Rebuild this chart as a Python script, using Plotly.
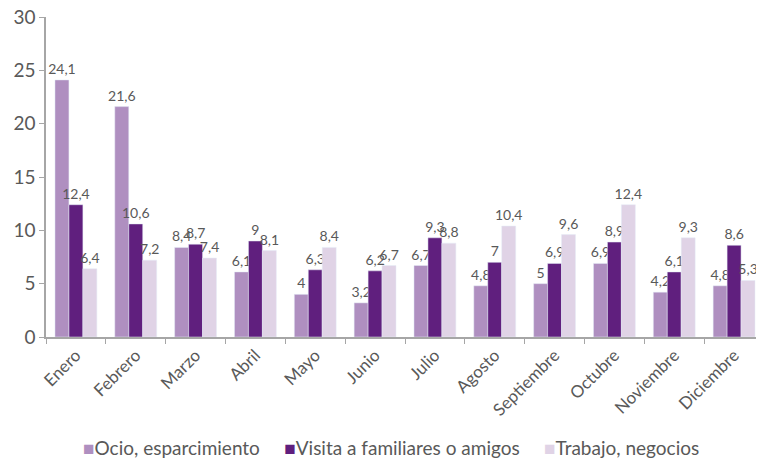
import plotly.graph_objects as go

months = ["Enero", "Febrero", "Marzo", "Abril", "Mayo", "Junio", "Julio",
          "Agosto", "Septiembre", "Octubre", "Noviembre", "Diciembre"]
ocio = [24.1, 21.6, 8.4, 6.1, 4, 3.2, 6.7, 4.8, 5, 6.9, 4.2, 4.8]
visita = [12.4, 10.6, 8.7, 9, 6.3, 6.2, 9.3, 7, 6.9, 8.9, 6.1, 8.6]
trabajo = [6.4, 7.2, 7.4, 8.1, 8.4, 6.7, 8.8, 10.4, 9.6, 12.4, 9.3, 5.3]

series = [
    ("Ocio, esparcimiento", ocio, "#AF8FC0"),
    ("Visita a familiares o amigos", visita, "#601F7E"),
    ("Trabajo, negocios", trabajo, "#E0D3E6"),
]

FONT = "Lato"
GRAY = "#595959"

def fmt(v):
    return ("%g" % v).replace(".", ",")

fig = go.Figure()
for name, vals, color in series:
    fig.add_trace(go.Bar(
        x=months, y=vals, name=name, marker_color=color,
        text=[fmt(v) for v in vals], textposition="outside",
        textfont=dict(size=14, color=GRAY, family=FONT), constraintext="none",
        cliponaxis=False, textangle=0, showlegend=False,
    ))

# legend drawn as a single centered text line with coloured squares
legend_text = "     ".join(
    "<span style='color:%s'>■</span>%s" % (color, name) for name, _, color in series
)
fig.add_annotation(
    text=legend_text, xref="paper", yref="paper", x=0.481, y=-0.345,
    xanchor="center", yanchor="middle", showarrow=False,
    font=dict(size=19, color=GRAY, family=FONT),
)

# page body has an 8px default margin; figure is sized to fit the 764x461 window
fig.update_layout(
    width=756, height=453,
    margin=dict(l=38, r=0, t=9, b=124, autoexpand=False),
    paper_bgcolor="white", plot_bgcolor="white",
    barmode="group", bargap=0.3, bargroupgap=0,
    font=dict(family=FONT, color=GRAY),
    separators=",.",
    xaxis=dict(showline=True, linecolor="#A6A6A6", linewidth=1.5,
               ticks="outside", tickson="boundaries", ticklen=5, tickcolor="#A6A6A6",
               tickangle=-45, tickfont=dict(size=17, color=GRAY, family=FONT),
               showgrid=False, automargin=False, ticklabeloverflow="allow"),
    yaxis=dict(range=[0, 30], dtick=5, showline=True, linecolor="#A6A6A6", linewidth=1.5,
               ticks="outside", ticklen=5, tickcolor="#A6A6A6",
               tickfont=dict(size=19, color=GRAY, family=FONT), showgrid=False,
               zeroline=False, automargin=False, ticklabeloverflow="allow"),
)

fig.write_html("out.html")
